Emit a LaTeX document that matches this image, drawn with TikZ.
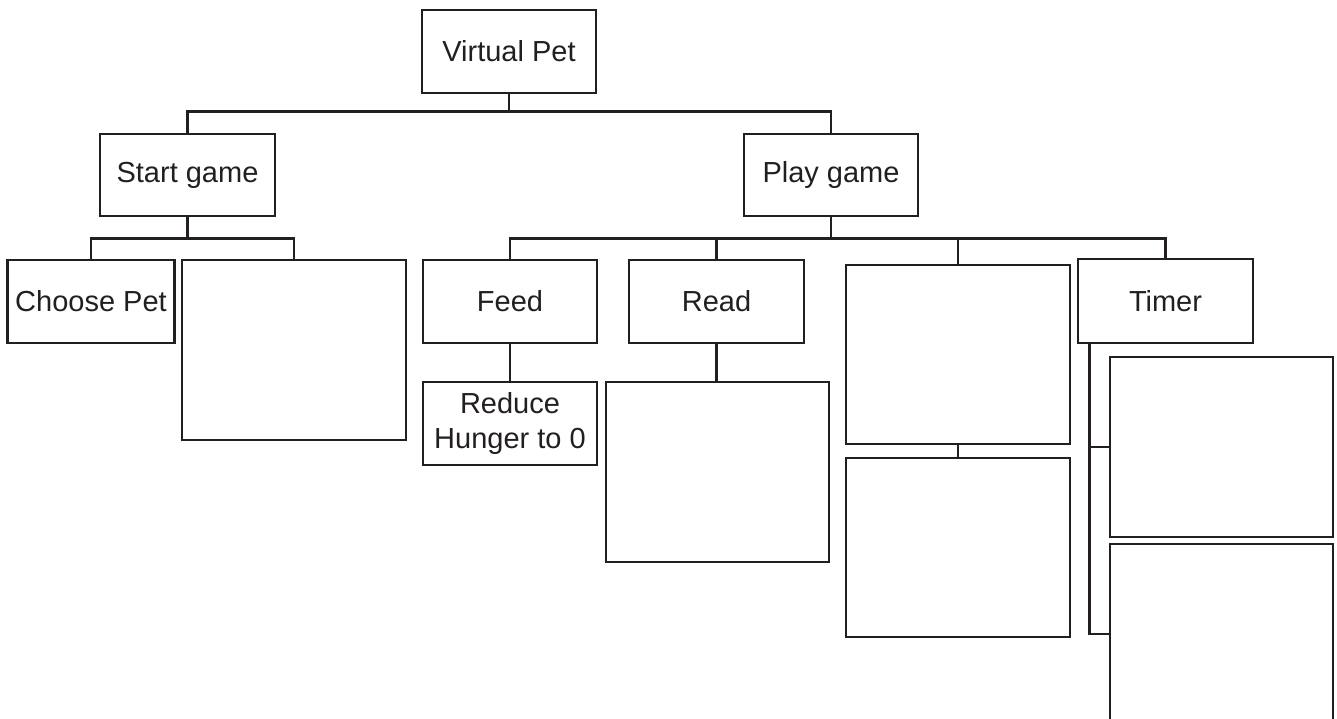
\documentclass[tikz,border=0pt]{standalone}
\usepackage{fontspec}
\setmainfont{Liberation Sans}
\definecolor{ink}{HTML}{231F20}
\begin{document}
\begin{tikzpicture}[x=1pt,y=-1pt,
  box/.style={draw=ink,line width=2.9pt,rectangle,inner sep=0pt,align=center,
    text=ink,font=\fontsize{29}{35}\selectfont},
  link/.style={draw=ink,line width=2.6pt}]
\useasboundingbox (0,0) rectangle (1337,719);
\clip (0,0) rectangle (1337,719);
% nodes
\node[box,minimum width=174pt,minimum height=83pt] (vp) at (509,51.5) {Virtual Pet};
\node[box,minimum width=175pt,minimum height=82pt] (sg) at (187.5,175) {Start game};
\node[box,minimum width=174pt,minimum height=82pt] (pg) at (831,175) {Play game};
\node[box,minimum width=167pt,minimum height=83pt] (cp) at (91,301.5) {Choose Pet};
\node[box,minimum width=224pt,minimum height=180pt] (b1) at (294,350) {};
\node[box,minimum width=174pt,minimum height=83pt] (fd) at (510,301.5) {Feed};
\node[box,minimum width=175pt,minimum height=83pt] (rd) at (716.5,301.5) {Read};
\node[box,minimum width=174pt,minimum height=83pt] (rh) at (510,423.5) {Reduce\\Hunger to 0};
\node[box,minimum width=223pt,minimum height=180pt] (b2) at (717.5,472) {};
\node[box,minimum width=224pt,minimum height=179pt] (b3) at (958,354.5) {};
\node[box,minimum width=224pt,minimum height=179pt] (b4) at (958,547.5) {};
\node[box,minimum width=175pt,minimum height=84pt] (tm) at (1165.5,301) {Timer};
\node[box,minimum width=223pt,minimum height=180pt] (b5) at (1221.5,447) {};
\node[box,minimum width=223pt,minimum height=180pt] (b6) at (1221.5,634) {};
% connectors
\draw[link] (vp.south) -- ++(0,17) coordinate (j1);
\draw[link] (sg.north) |- (j1) -| (pg.north);
\draw[link] (sg.south) -- ++(0,21) coordinate (j2);
\draw[link] (cp.north) |- (j2) -| (b1.north);
\draw[link] (pg.south) -- ++(0,21) coordinate (j3);
\draw[link] (fd.north) |- (j3) -| (tm.north);
\draw[link] (rd.north) -- (rd.north |- j3);
\draw[link] (b3.north) -- (b3.north |- j3);
\draw[link] (fd.south) -- (rh.north);
\draw[link] (rd.south) -- (rd.south |- b2.north);
\draw[link] (b3.south) -- (b4.north);
\coordinate (t0) at ([xshift=13pt]tm.south west);
\draw[link] (t0) |- (b6.west);
\draw[link] (t0 |- b5.west) -- (b5.west);
\end{tikzpicture}
\end{document}
